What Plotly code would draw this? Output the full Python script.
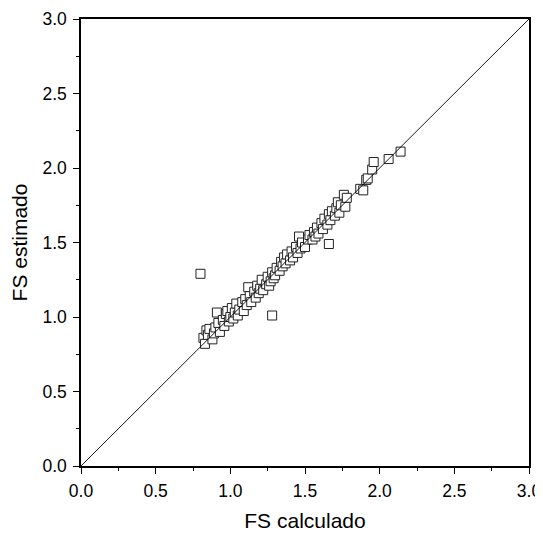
import plotly.graph_objects as go

fs_calculado = [0.80, 1.28, 1.66,
    0.82, 0.83, 0.84, 0.85, 0.86, 0.88, 0.89, 0.90, 0.91, 0.92, 0.93, 0.95, 0.96, 0.97, 0.98, 0.99,
    1.00, 1.01, 1.02, 1.03, 1.04, 1.05, 1.06, 1.08, 1.09, 1.10, 1.11, 1.12, 1.13, 1.14, 1.16, 1.17,
    1.18, 1.19, 1.20, 1.21, 1.22, 1.24, 1.25, 1.26, 1.27, 1.28, 1.29, 1.30, 1.31, 1.33, 1.34, 1.35,
    1.36, 1.37, 1.38, 1.40, 1.41, 1.42, 1.44, 1.45, 1.46, 1.47, 1.48, 1.50, 1.52, 1.53, 1.55, 1.56,
    1.57, 1.58, 1.59, 1.61, 1.62, 1.63, 1.65, 1.66, 1.67, 1.68, 1.70, 1.71, 1.72, 1.73, 1.74, 1.76,
    1.77, 1.78, 1.87, 1.89, 1.91, 1.92, 1.95, 1.96, 2.06, 2.14]
fs_estimado = [1.29, 1.01, 1.49,
    0.86, 0.82, 0.91, 0.88, 0.92, 0.85, 0.89, 0.93, 1.03, 0.96, 0.90, 0.98, 0.94, 1.02, 1.04, 0.97,
    1.00, 1.06, 0.99, 1.03, 1.09, 1.01, 1.05, 1.10, 1.04, 1.12, 1.08, 1.20, 1.14, 1.10, 1.17, 1.13,
    1.21, 1.16, 1.19, 1.25, 1.18, 1.22, 1.27, 1.21, 1.24, 1.30, 1.26, 1.28, 1.33, 1.31, 1.37, 1.34,
    1.40, 1.36, 1.42, 1.38, 1.44, 1.40, 1.47, 1.43, 1.54, 1.46, 1.50, 1.47, 1.52, 1.55, 1.52, 1.57,
    1.54, 1.60, 1.56, 1.63, 1.59, 1.66, 1.62, 1.69, 1.65, 1.71, 1.68, 1.73, 1.77, 1.70, 1.75, 1.82,
    1.74, 1.80, 1.86, 1.85, 1.92, 1.93, 1.99, 2.04, 2.06, 2.11]
identity_line = [0.0, 3.0]
tick_vals = [0.0, 0.5, 1.0, 1.5, 2.0, 2.5, 3.0]
tick_text = ["0.0", "0.5", "1.0", "1.5", "2.0", "2.5", "3.0"]

FONT = "Liberation Sans, Arial"

fig = go.Figure()
fig.add_trace(go.Scatter(x=fs_calculado, y=fs_estimado, mode="markers",
    marker=dict(symbol="square", size=9, color="white", line=dict(color="#222", width=1)),
    showlegend=False, cliponaxis=False))
fig.add_trace(go.Scatter(x=identity_line, y=identity_line, mode="lines",
    line=dict(color="black", width=0.9), showlegend=False))

axis_common = dict(range=[0, 3], tickvals=tick_vals, ticktext=tick_text, automargin=False,
    showline=True, linecolor="black", linewidth=1.5, mirror=True,
    ticks="outside", ticklen=6, tickwidth=1.2, tickcolor="black",
    showgrid=False, zeroline=False,
    minor=dict(dtick=0.25, ticks="outside", ticklen=3, tickwidth=1.2, tickcolor="black", showgrid=False),
    tickfont=dict(family=FONT, size=17.5, color="black"))

fig.update_xaxes(**axis_common, ticklabelstandoff=2,
    title=dict(text="FS calculado", font=dict(family=FONT, size=21, color="black"), standoff=14))
fig.update_yaxes(**axis_common, ticklabelstandoff=3,
    title=dict(text="FS estimado", font=dict(family=FONT, size=21, color="black"), standoff=14))

# page body adds an 8px offset, so the figure is sized to fit the window
fig.update_layout(width=535, height=525, margin=dict(l=73, r=14, t=11, b=67),
    plot_bgcolor="white", paper_bgcolor="white")
fig.write_html("out.html")
